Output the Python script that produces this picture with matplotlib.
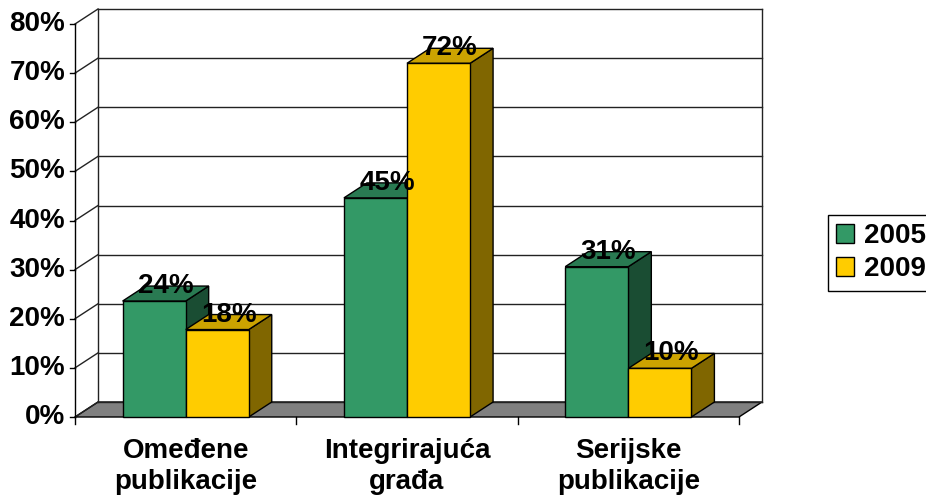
import matplotlib
matplotlib.use("Agg")
import matplotlib.pyplot as plt
from matplotlib.patches import Polygon, Patch

categories = ["Omeđene\npublikacije", "Integrirajuća\ngrađa", "Serijske\npublikacije"]
series = ["2005", "2009"]
values_2005 = [24, 45, 31]
values_2009 = [18, 72, 10]
tops_2005 = [23.6, 44.6, 30.6]  # drawn heights (labels are rounded)
tops_2009 = [17.8, 72.0, 9.9]
yticks = [0, 10, 20, 30, 40, 50, 60, 70, 80]

# colours: front, top, side
colors = {
    "2005": ("#339966", "#297a52", "#1a4d33"),
    "2009": ("#ffcc00", "#cca300", "#806600"),
}

plt.rcParams['font.family'] = ['Liberation Sans', 'DejaVu Sans']
plt.rcParams['font.weight'] = 'bold'
FS = 20

fig = plt.figure(figsize=(9.26, 4.99), dpi=100)
ax = fig.add_axes([0, 0, 1, 1])
ax.axis('off')
# data units: x = category index, y = percent
px_x = 221.33
px_y = 4.9125
ax.set_xlim(-75 / px_x, (926 - 75) / px_x)
ax.set_ylim(-82 / px_y, (499 - 82) / px_y)

ddx = 23 / px_x   # depth offset
ddy = 15 / px_y
ymax = 80
n = len(categories)
lw = 1.0
gridc = '#222222'

# floor
ax.add_patch(Polygon([(0, 0), (n, 0), (n + ddx, ddy), (ddx, ddy)],
                     closed=True, facecolor='#808080', edgecolor='black', lw=lw, zorder=1))
# back wall gridlines and left wall diagonals
for t in yticks:
    ax.plot([ddx, n + ddx], [t + ddy, t + ddy], color=gridc, lw=lw, zorder=1)
    ax.plot([0, ddx], [t, t + ddy], color=gridc, lw=lw, zorder=1)
    ax.plot([0, -0.024], [t, t], color='black', lw=lw, zorder=1)
    ax.text(-0.045, t, f"{t}%", ha='right', va='center', fontsize=FS, fontweight='bold')
ax.plot([ddx, ddx], [ddy, ymax + ddy], color=gridc, lw=lw, zorder=1)
ax.plot([n + ddx, n + ddx], [ddy, ymax + ddy], color=gridc, lw=lw, zorder=1)
ax.plot([0, 0], [0, ymax], color='black', lw=lw, zorder=1)
for i in range(n + 1):
    ax.plot([i, i], [0, -1.5], color='black', lw=lw, zorder=1)

# bars
bw = 0.285
z = 2
for i in range(n):
    for j, (name, tops) in enumerate([("2005", tops_2005), ("2009", tops_2009)]):
        x0 = i + 0.5 - bw + j * bw
        x1 = x0 + bw
        h = tops[i]
        front, top, side = colors[name]
        ax.add_patch(Polygon([(x1, 0), (x1 + ddx, ddy), (x1 + ddx, h + ddy), (x1, h)],
                             closed=True, facecolor=side, edgecolor='black', lw=lw, zorder=z))
        ax.add_patch(Polygon([(x0, h), (x1, h), (x1 + ddx, h + ddy), (x0 + ddx, h + ddy)],
                             closed=True, facecolor=top, edgecolor='black', lw=lw, zorder=z))
        ax.add_patch(Polygon([(x0, 0), (x1, 0), (x1, h), (x0, h)],
                             closed=True, facecolor=front, edgecolor='black', lw=lw, zorder=z))
        z += 1

# value labels
for i in range(n):
    for j, (tops, vals) in enumerate([(tops_2005, values_2005), (tops_2009, values_2009)]):
        xc = i + 0.5 - bw / 2 + j * bw + ddx / 2
        ax.text(xc, tops[i] + ddy, f"{vals[i]}%", ha='center', va='center',
                fontsize=FS, fontweight='bold', zorder=20)

# category labels
for i, c in enumerate(categories):
    ax.text(i + 0.5, -4.2, c, ha='center', va='top', fontsize=FS,
            fontweight='bold', linespacing=1.25)

handles = [Patch(facecolor=colors[s][0], edgecolor='black', lw=1) for s in series]
leg = fig.legend(handles, series, loc='upper left', bbox_to_anchor=(828 / 926, 1 - 215 / 499),
                 frameon=True, fancybox=False, edgecolor='black', framealpha=1,
                 prop={'size': FS, 'weight': 'bold'}, handlelength=0.65, handleheight=0.65,
                 handletextpad=0.35, borderpad=0.3, labelspacing=0.25, borderaxespad=0)
leg.get_frame().set_linewidth(1)

fig.savefig("out.png", dpi=100)
